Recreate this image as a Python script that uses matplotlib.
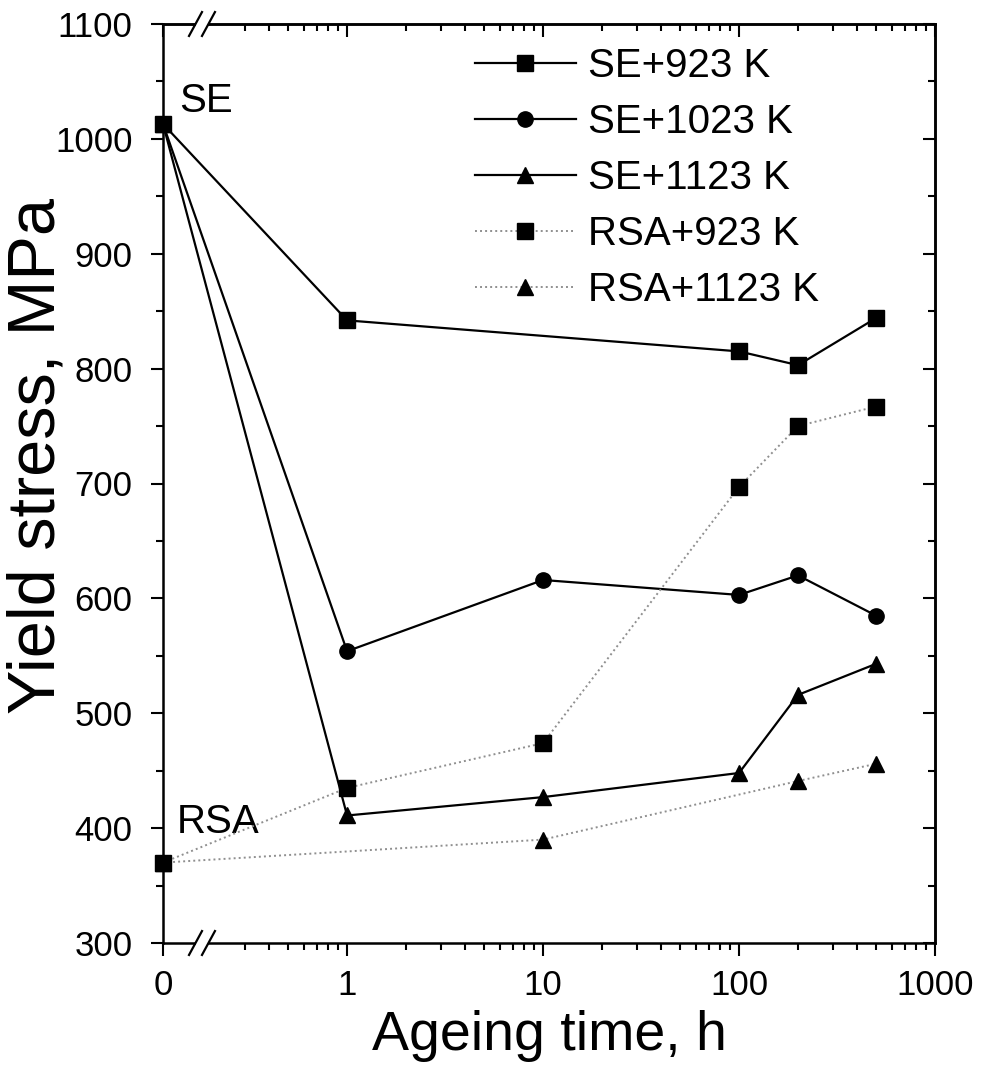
import matplotlib.pyplot as plt
from matplotlib.ticker import FixedLocator, NullFormatter, MultipleLocator

plt.rcParams['font.family'] = ['Liberation Sans', 'DejaVu Sans']

# zero ageing time has no place on a log axis, so it sits left of the break here
T_ZERO = 0.115

t_se923 = [0, 1, 100, 200, 500]
ys_se923 = [1013, 842, 815, 803, 844]

t_se1023 = [0, 1, 10, 100, 200, 500]
ys_se1023 = [1013, 554, 616, 603, 620, 585]

t_se1123 = [0, 1, 10, 100, 200, 500]
ys_se1123 = [1013, 411, 427, 448, 516, 543]

t_rsa923 = [0, 1, 10, 100, 200, 500]
ys_rsa923 = [370, 435, 474, 697, 750, 767]

t_rsa1123 = [0, 10, 200, 500]
ys_rsa1123 = [370, 390, 441, 456]

x_ticks = [T_ZERO, 1, 10, 100, 1000]
x_ticklabels = ['0', '1', '10', '100', '1000']
x_minor = [0.3, 0.4, 0.5, 0.6, 0.7, 0.8, 0.9] + \
    [m * d for d in (1, 10, 100) for m in range(2, 10)]


def tpos(t):
    return [T_ZERO if v == 0 else v for v in t]


fig = plt.figure(figsize=(9.82, 10.66), dpi=100)
ax = fig.add_axes([163 / 982, 1 - 943 / 1066, 772 / 982, 919 / 1066])

solid = dict(color='black', lw=1.6, ms=11, clip_on=False)
dotted = dict(color='#8f8f8f', lw=1.4, ls=(0, (1, 1.6)), ms=11,
              mfc='black', mec='black', clip_on=False)

ax.plot(tpos(t_se1123), ys_se1123, marker='^', label='SE+1123 K', zorder=3, **solid)
ax.plot(tpos(t_se1023), ys_se1023, marker='o', label='SE+1023 K', zorder=4, **solid)
ax.plot(tpos(t_se923), ys_se923, marker='s', label='SE+923 K', zorder=5, **solid)
ax.plot(tpos(t_rsa1123), ys_rsa1123, marker='^', label='RSA+1123 K', zorder=3, **dotted)
ax.plot(tpos(t_rsa923), ys_rsa923, marker='s', label='RSA+923 K', zorder=4, **dotted)

ax.set_xscale('log')
ax.set_xlim(T_ZERO, 1000)
ax.set_ylim(300, 1100)

ax.xaxis.set_major_locator(FixedLocator(x_ticks))
ax.set_xticklabels(x_ticklabels)
ax.xaxis.set_minor_locator(FixedLocator(x_minor))
ax.xaxis.set_minor_formatter(NullFormatter())
ax.yaxis.set_major_locator(MultipleLocator(100))
ax.yaxis.set_minor_locator(MultipleLocator(50))

for s in ax.spines.values():
    s.set_linewidth(1.8)

ax.tick_params(which='major', direction='out', length=9, width=1.5, labelsize=25)
ax.tick_params(which='minor', direction='out', length=5, width=1.5)
ax.tick_params(axis='x', which='major', pad=10)
ax.tick_params(axis='y', which='major', pad=13)

# mirrored ticks on top and right point into the plot
top = ax.secondary_xaxis('top')
top.xaxis.set_major_locator(FixedLocator(x_ticks))
top.xaxis.set_minor_locator(FixedLocator(x_minor))
top.tick_params(which='both', direction='in', labeltop=False, width=1.5)
top.tick_params(which='major', length=9)
top.tick_params(which='minor', length=5)
top.spines['top'].set_linewidth(1.8)

right = ax.secondary_yaxis('right')
right.yaxis.set_major_locator(MultipleLocator(100))
right.yaxis.set_minor_locator(MultipleLocator(50))
right.tick_params(which='both', direction='in', labelright=False, width=1.5)
right.tick_params(which='major', length=9)
right.tick_params(which='minor', length=5)
right.spines['right'].set_linewidth(1.8)

# axis break marks
bx1, bx2 = 0.0421, 0.0589
dx, dy = 0.0084, 0.013
for yb in (0, 1):
    ax.plot([bx1, bx2], [yb, yb], transform=ax.transAxes, color='white',
            lw=4, clip_on=False, zorder=6, solid_capstyle='butt')
    for xb in (bx1, bx2):
        ax.plot([xb - dx, xb + dx], [yb - dy, yb + dy], transform=ax.transAxes,
                color='black', lw=1.6, clip_on=False, zorder=7)

ax.text(0.0207, 0.904, 'SE', transform=ax.transAxes, fontsize=29, va='baseline')
ax.text(0.018, 0.1197, 'RSA', transform=ax.transAxes, fontsize=29, va='baseline')

ax.set_xlabel('Ageing time, h', fontsize=40)
ax.set_ylabel('Yield stress, MPa', fontsize=48)
ax.xaxis.set_label_coords(0.5, -0.073)
ax.yaxis.set_label_coords(-0.123, 0.53)

handles, labels = ax.get_legend_handles_labels()
order = ['SE+923 K', 'SE+1023 K', 'SE+1123 K', 'RSA+923 K', 'RSA+1123 K']
hmap = dict(zip(labels, handles))
ax.legend([hmap[k] for k in order], order, loc='upper left',
          bbox_to_anchor=(0.404, 0.975), frameon=False, fontsize=29,
          handlelength=2.5, handletextpad=0.3, labelspacing=0.45,
          borderpad=0, borderaxespad=0, numpoints=1)

fig.savefig('out.png', dpi=100)
